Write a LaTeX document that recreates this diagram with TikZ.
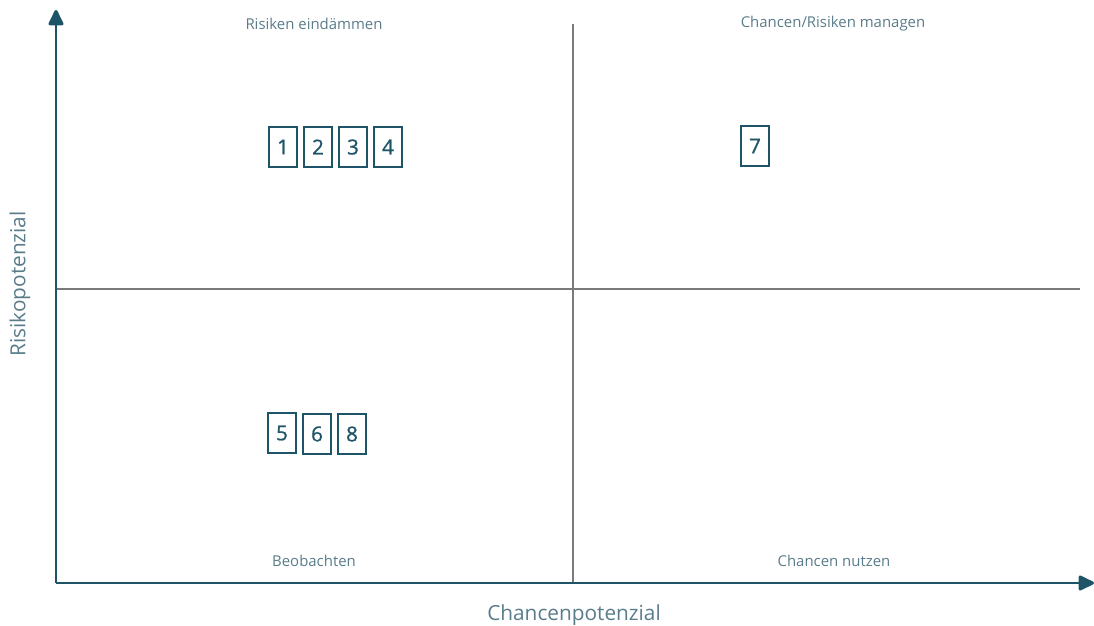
\documentclass[tikz,border=0pt]{standalone}
\usepackage{fontspec}
\setmainfont{Open Sans}
\newfontfamily\numfont{Open Sans}[FakeBold=0.9]
\usepackage{tikz}
\usetikzlibrary{arrows.meta}

\definecolor{axisblue}{HTML}{1E5468}
\definecolor{labelblue}{HTML}{5A7C8A}
\definecolor{gridgray}{HTML}{7A7A7A}

\begin{document}
\begin{tikzpicture}[x=0.75pt, y=-0.75pt,
    item/.style={draw=axisblue, line width=1.5pt, text=axisblue, minimum width=20.5pt, minimum height=30pt, inner sep=0pt, font=\numfont\fontsize{15.5}{18}\selectfont},
    quadrant/.style={text=labelblue, font=\fontsize{11.2}{13}\selectfont},
    axislabel/.style={text=labelblue, font=\fontsize{15.6}{18}\selectfont}]
            \useasboundingbox (0,0) rectangle (1094,625);

            % Define axes
            \coordinate (O) at (56,583);
            \coordinate (Ytip) at (56,10);
            \coordinate (Xtip) at (1094,583);
            \coordinate (Vtop) at (573,24);
            \coordinate (Vbot) at (573,583);
            \coordinate (Hleft) at (56,289);
            \coordinate (Hright) at (1080,289);

            % Draw dividers
            \draw[gridgray, line width=0.8pt] (Vtop) -- (Vbot);
            \draw[gridgray, line width=0.8pt] (Hleft) -- (Hright);

            % Draw axes with arrows
            \draw[axisblue, line width=2.2pt, -{Triangle[round, length=13pt, width=12pt]}] (O) -- (Ytip);
            \draw[axisblue, line width=2.2pt, -{Triangle[round, length=13pt, width=12pt]}] (O) -- (Xtip);

            % Quadrant labels
            \node[quadrant] (risk) at (314,24) {Risiken eindämmen};
            \node[quadrant] (manage) at (833,24) {Chancen/Risiken managen};
            \node[quadrant] (watch) at (314,561) {Beobachten};
            \node[quadrant] (use) at (834,561) {Chancen nutzen};

            % Axis labels
            \node[axislabel] (xlabel) at (574,615) {Chancenpotenzial};
            \node[axislabel, rotate=90] (ylabel) at (20,284) {Risikopotenzial};

            % Items
            \node[item] (i1) at (283,147) {1};
            \node[item] (i2) at (318,147) {2};
            \node[item] (i3) at (353,147) {3};
            \node[item] (i4) at (388,147) {4};
            \node[item] (i7) at (755,146) {7};
            \node[item] (i5) at (282,433) {5};
            \node[item] (i6) at (317,434) {6};
            \node[item] (i8) at (352,434) {8};
        \end{tikzpicture}
\end{document}
